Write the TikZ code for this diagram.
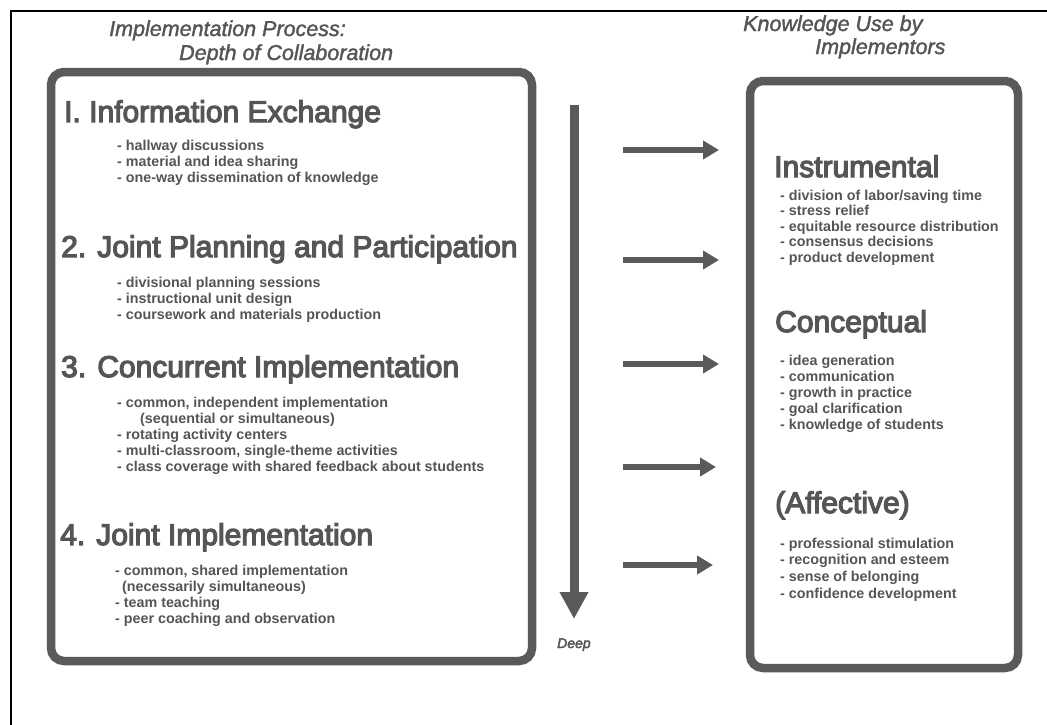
\documentclass[tikz,border=0pt]{standalone}
\usepackage{fontspec}
\setmainfont{Liberation Sans}
\usetikzlibrary{arrows.meta}
\definecolor{ink}{HTML}{555555}
\definecolor{boxc}{HTML}{5A5A5A}
\newcommand\heavytext[2]{\special{pdf:literal direct 2 Tr #1 w}#2\special{pdf:literal direct 0 Tr}}
\begin{document}
\begin{tikzpicture}[x=1pt,y=-1pt,
  head/.style={anchor=base west, inner sep=0pt, text=ink, font=\fontsize{30}{34}\selectfont},
  bul/.style={anchor=base west, inner sep=0pt, text=ink, font=\bfseries\fontsize{14.3}{16}\selectfont},
  ttl/.style={anchor=base west, inner sep=0pt, text=ink, font=\itshape\fontsize{21.5}{24}\selectfont},
  panel/.style={draw=boxc, line width=8.5pt, rounded corners=13pt},
  harrow/.style={draw=boxc, line width=6pt, -{Triangle[length=16pt,width=18pt]}},
  varrow/.style={draw=boxc, line width=9pt, -{Triangle[length=27pt,width=27pt]}},
]
\useasboundingbox (0,0) rectangle (1047,724);
\fill[white] (0,0) rectangle (1047,724);
% outer frame (only top and left visible)
\draw[line width=2pt] (10.5,740) -- (10.5,10.5) -- (1060,10.5);

% titles
\node[ttl] (tl1) at (109,36) {\heavytext{0.35}{Implementation Process:}};
\node[ttl] (tl2) at (179,60) {\heavytext{0.35}{Depth of Collaboration}};
\node[ttl] (tr1) at (743,31) {\heavytext{0.35}{Knowledge Use by}};
\node[ttl] (tr2) at (815,54) {\heavytext{0.35}{Implementors}};

% panels
\draw[panel] (51,72) rectangle (532,661);
\draw[panel] (750,81) rectangle (1018,668);

% left headings
\node[head] (h1) at (64,122) {\heavytext{1.2}{I. Information Exchange}};
\node[head] (h2) at (61,257) {\heavytext{1.2}{2. Joint Planning and Participation}};
\node[head] (h3) at (61,377) {\heavytext{1.2}{3. Concurrent Implementation}};
\node[head] (h4) at (60,545) {\heavytext{1.2}{4. Joint Implementation}};

% left bullets
\foreach \t [count=\i from 0] in {{- hallway discussions},{- material and idea sharing},{- one-way dissemination of knowledge}}
  \node[bul] (ba\i) at (117,{150+16*\i}) {\t};
\foreach \t [count=\i from 0] in {{- divisional planning sessions},{- instructional unit design},{- coursework and materials production}}
  \node[bul] (bb\i) at (117,{287+16*\i}) {\t};
\node[bul] (bc0) at (117,407) {- common, independent implementation};
\node[bul] (bc1) at (140,423) {(sequential or simultaneous)};
\node[bul] (bc2) at (117,439) {- rotating activity centers};
\node[bul] (bc3) at (117,455) {- multi-classroom, single-theme activities};
\node[bul] (bc4) at (117,471) {- class coverage with shared feedback about students};
\node[bul] (bd0) at (115,575) {- common, shared implementation};
\node[bul] (bd1) at (122,591) {(necessarily simultaneous)};
\node[bul] (bd2) at (115,607) {- team teaching};
\node[bul] (bd3) at (115,623) {- peer coaching and observation};

% right headings
\node[head] (r1) at (774,177) {\heavytext{1.2}{Instrumental}};
\node[head] (r2) at (775,332) {\heavytext{1.2}{Conceptual}};
\node[head] (r3) at (775,513) {\heavytext{1.2}{(Affective)}};

% right bullets
\foreach \t [count=\i from 0] in {{- division of labor/saving time},{- stress relief},{- equitable resource distribution},{- consensus decisions},{- product development}}
  \node[bul] (ra\i) at (780,{200+15.5*\i}) {\t};
\foreach \t [count=\i from 0] in {{- idea generation},{- communication},{- growth in practice},{- goal clarification},{- knowledge of students}}
  \node[bul] (rb\i) at (780,{365+16*\i}) {\t};
\foreach \t [count=\i from 0] in {{- professional stimulation},{- recognition and esteem},{- sense of belonging},{- confidence development}}
  \node[bul] (rc\i) at (780,{548+16.7*\i}) {\t};

% depth arrow
\coordinate (vtop) at (574,105);
\coordinate (vbot) at (574,619);
\draw[varrow] (vtop) -- (vbot);
\node[anchor=base west, inner sep=0pt, text=ink, font=\itshape\fontsize{14}{16}\selectfont] (deep) at (557,648) {\heavytext{0.4}{Deep}};

% horizontal arrows
\foreach \yy/\xe [count=\k] in {150/719,260/719,364/719,467/716,565/713} {
  \coordinate (as\k) at (623,\yy);
  \coordinate (ae\k) at (\xe,\yy);
  \draw[harrow] (as\k) -- (ae\k);
}
\end{tikzpicture}
\end{document}
